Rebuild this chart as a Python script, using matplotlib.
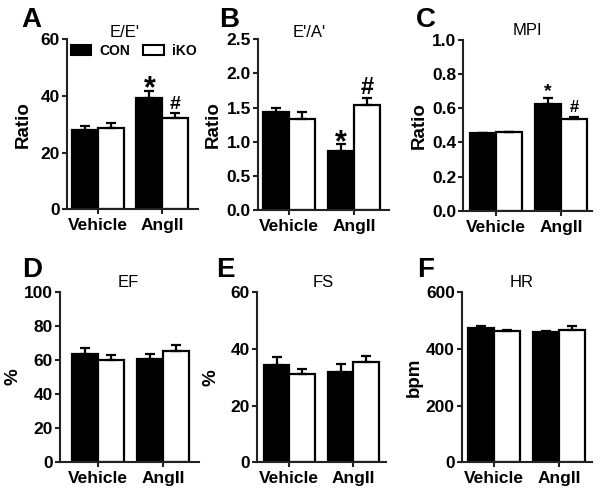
import matplotlib
matplotlib.use("Agg")
import matplotlib.pyplot as plt
import numpy as np
from matplotlib.patches import Patch

plt.rcParams['font.family'] = ['Liberation Sans', 'DejaVu Sans']
plt.rcParams['font.weight'] = 'bold'

# ---------------- data ----------------
categories = ['Vehicle', 'AngII']
series_names = ['CON', 'iKO']

ee_con = [28.0, 39.4]
ee_con_err = [1.4, 2.5]
ee_iko = [28.8, 32.1]
ee_iko_err = [1.8, 2.0]

ea_con = [1.43, 0.87]
ea_con_err = [0.06, 0.10]
ea_iko = [1.33, 1.54]
ea_iko_err = [0.10, 0.10]

mpi_con = [0.453, 0.627]
mpi_con_err = [0.005, 0.035]
mpi_iko = [0.459, 0.537]
mpi_iko_err = [0.004, 0.012]

ef_con = [63.6, 60.4]
ef_con_err = [3.7, 3.4]
ef_iko = [60.0, 65.5]
ef_iko_err = [3.0, 3.4]

fs_con = [34.3, 32.0]
fs_con_err = [2.8, 2.7]
fs_iko = [31.2, 35.5]
fs_iko_err = [1.7, 2.0]

hr_con = [474, 461]
hr_con_err = [7, 4]
hr_iko = [462, 466]
hr_iko_err = [4, 14]

titles = ["E/E'", "E'/A'", "MPI", "EF", "FS", "HR"]
ylabels = ['Ratio', 'Ratio', 'Ratio', '%', '%', 'bpm']
letters = ['A', 'B', 'C', 'D', 'E', 'F']
yticks_list = [
    [0, 20, 40, 60],
    [0.0, 0.5, 1.0, 1.5, 2.0, 2.5],
    [0.0, 0.2, 0.4, 0.6, 0.8, 1.0],
    [0, 20, 40, 60, 80, 100],
    [0, 20, 40, 60],
    [0, 200, 400, 600],
]
ytick_fmt = ['{:.0f}', '{:.1f}', '{:.1f}', '{:.0f}', '{:.0f}', '{:.0f}']

panels = [
    (ee_con, ee_con_err, ee_iko, ee_iko_err),
    (ea_con, ea_con_err, ea_iko, ea_iko_err),
    (mpi_con, mpi_con_err, mpi_iko, mpi_iko_err),
    (ef_con, ef_con_err, ef_iko, ef_iko_err),
    (fs_con, fs_con_err, fs_iko, fs_iko_err),
    (hr_con, hr_con_err, hr_iko, hr_iko_err),
]

# significance markers: (panel, group index, series index, symbol)
sig_marks = [
    (0, 1, 0, '*'), (0, 1, 1, '#'),
    (1, 1, 0, '*'), (1, 1, 1, '#'),
    (2, 1, 0, '*'), (2, 1, 1, '#'),
]

# ---------------- layout (pixels) ----------------
W, H = 601, 495
fig = plt.figure(figsize=(W / 100, H / 100), dpi=100)

# left, right, top, bottom in px
boxes = [
    (66.7, 198, 39.3, 209.3),
    (257.7, 389, 39.3, 210),
    (463.3, 592.3, 40, 210.7),
    (60, 199, 292.3, 461.7),
    (256.7, 386, 292.3, 462.3),
    (461.7, 592, 292.3, 462.3),
]
tick_px = [(97.7, 162.3), (289.3, 354.3), (495.7, 561), (98, 163), (289.3, 353.3), (494, 559)]
ylabel_right_px = [32, 222, 428, 22, 220, 423]
title_pos = [(125, 37), (309, 37), (527, 35), (128, 287), (323, 287), (522, 287)]
letter_pos = [(21, 27), (219, 27), (416, 27), (22, 277), (216, 277), (417, 277)]
# (fontsize pt, baseline offset in px above error-bar top; negative = below)
sig_style = {
    (0, '*'): (22, -7), (0, '#'): (14, 4),
    (1, '*'): (22, -7), (1, '#'): (17, 4),
    (2, '*'): (14, 2), (2, '#'): (12, 5),
}

bw = 0.4
lw = 1.6
for i, (con, con_e, iko, iko_e) in enumerate(panels):
    l, r, t, b = boxes[i]
    ax = fig.add_axes([l / W, 1 - b / H, (r - l) / W, (b - t) / H])
    x = np.arange(len(categories))
    xc = x - bw / 2
    xi = x + bw / 2
    ax.bar(xc, con, width=bw, color='black', edgecolor='black', linewidth=lw, zorder=2)
    ax.bar(xi, iko, width=bw, color='white', edgecolor='black', linewidth=lw, zorder=2)
    ax.errorbar(xc, con, yerr=[np.zeros(len(con)), con_e], fmt='none', ecolor='black',
                elinewidth=lw, capsize=3.5, capthick=lw, zorder=3)
    ax.errorbar(xi, iko, yerr=[np.zeros(len(iko)), iko_e], fmt='none', ecolor='black',
                elinewidth=lw, capsize=3.5, capthick=lw, zorder=3)

    p0, p1 = tick_px[i]
    sp = p1 - p0
    ax.set_xlim((l - p0) / sp, (r - p0) / sp)
    yt = yticks_list[i]
    ax.set_ylim(yt[0], yt[-1])
    ax.set_yticks(yt)
    ax.set_yticklabels([ytick_fmt[i].format(v) for v in yt])
    ax.set_xticks(x)
    ax.set_xticklabels(categories)

    for s in ['top', 'right']:
        ax.spines[s].set_visible(False)
    for s in ['left', 'bottom']:
        ax.spines[s].set_linewidth(1.5)
        ax.spines[s].set_color('#222222')
    ax.tick_params(axis='both', width=1.5, length=3.5, labelsize=12.5, pad=1.5, color='#222222')
    for lab in ax.get_xticklabels() + ax.get_yticklabels():
        lab.set_fontweight('bold')
    ax.tick_params(axis='x', pad=3)

    ax.set_ylabel(ylabels[i], fontsize=13.5, fontweight='bold')
    ax.yaxis.set_label_coords((ylabel_right_px[i] - l) / (r - l), 0.5)

    tx, ty = title_pos[i]
    fig.text(tx / W, 1 - ty / H, titles[i], ha='center', va='baseline',
             fontsize=12, fontweight='normal')
    lx, ly = letter_pos[i]
    fig.text(lx / W, 1 - ly / H, letters[i], ha='left', va='baseline',
             fontsize=20, fontweight='bold')

    for (pi, gi, si, sym) in sig_marks:
        if pi != i:
            continue
        vals, errs = (con, con_e) if si == 0 else (iko, iko_e)
        xpos = xc[gi] if si == 0 else xi[gi]
        fs, off = sig_style[(pi, sym)]
        ax.annotate(sym, xy=(xpos, vals[gi] + errs[gi]), xytext=(0, off * 0.72),
                    textcoords='offset points', ha='center', va='baseline',
                    fontsize=fs, fontweight='bold')

    if i == 0:
        handles = [Patch(facecolor='black', edgecolor='black', linewidth=1.5),
                   Patch(facecolor='white', edgecolor='black', linewidth=1.5)]
        ax.legend(handles, series_names, ncol=2, loc='upper left',
                  bbox_to_anchor=(0.03, 0.975), frameon=False,
                  prop={'size': 10, 'weight': 'bold'}, handlelength=1.5,
                  handleheight=0.75, handletextpad=0.6, columnspacing=0.9,
                  borderpad=0, borderaxespad=0)

fig.savefig('out.png', dpi=100)
